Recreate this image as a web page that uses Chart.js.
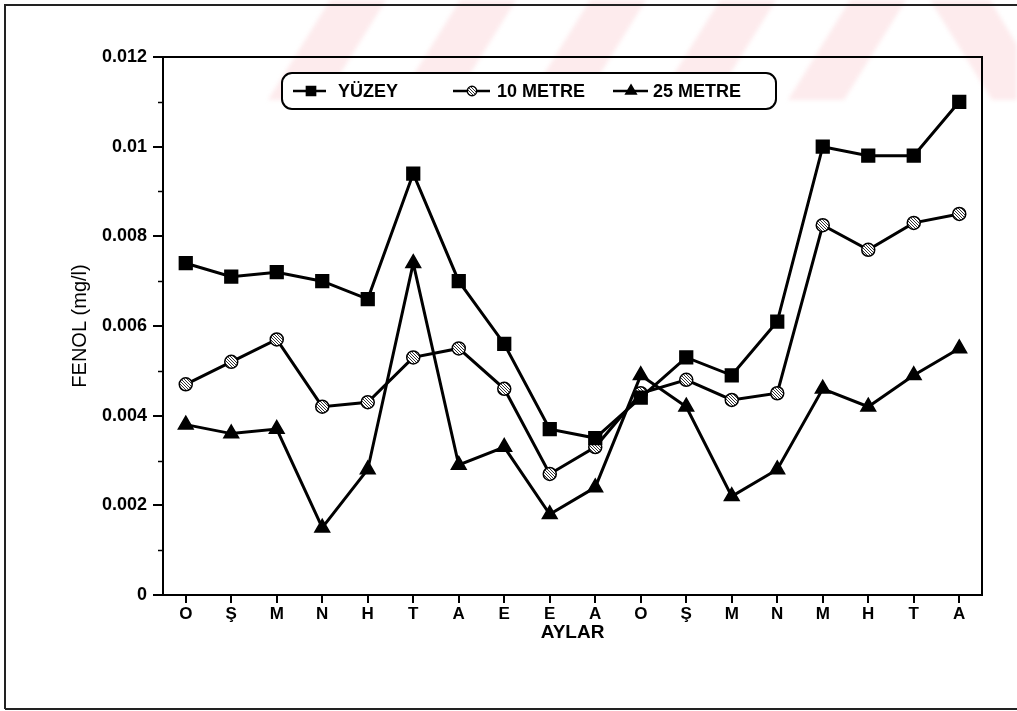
<!DOCTYPE html>
<html>
<head>
<meta charset="utf-8">
<script src="https://cdn.jsdelivr.net/npm/chart.js@4/dist/chart.umd.min.js"></script>
<style>
  html, body { margin: 0; padding: 0; background: #fff; }
  canvas { display: block; }
</style>
</head>
<body>
<canvas id="c" width="1017" height="711"></canvas>
<script>
// Months of sampling (Ekim .. Ağustos, two years)
const months = ['O', 'Ş', 'M', 'N', 'H', 'T', 'A', 'E', 'E', 'A', 'O', 'Ş', 'M', 'N', 'M', 'H', 'T', 'A'];

// Phenol concentration (mg/l) by depth
const yuzey   = [0.0074, 0.0071, 0.0072, 0.0070, 0.0066, 0.0094, 0.0070, 0.0056, 0.0037, 0.0035, 0.0044, 0.0053, 0.0049, 0.0061, 0.0100, 0.0098, 0.0098, 0.0110];
const metre10 = [0.0047, 0.0052, 0.0057, 0.0042, 0.0043, 0.0053, 0.0055, 0.0046, 0.0027, 0.0033, 0.0045, 0.0048, 0.00435, 0.0045, 0.00825, 0.0077, 0.0083, 0.0085];
const metre25 = [0.0038, 0.0036, 0.0037, 0.0015, 0.0028, 0.0074, 0.0029, 0.0033, 0.0018, 0.0024, 0.0049, 0.0042, 0.0022, 0.0028, 0.0046, 0.0042, 0.0049, 0.0055];

const seriesLabels = ['YÜZEY', '10 METRE', '25 METRE'];
const yTickLabels = ['0', '0.002', '0.004', '0.006', '0.008', '0.01', '0.012'];

// hatched fill for the 10 m circles
function hatchPattern() {
  const p = document.createElement('canvas');
  p.width = 3; p.height = 3;
  const g = p.getContext('2d');
  g.fillStyle = '#fff'; g.fillRect(0, 0, 3, 3);
  g.fillStyle = '#333';
  g.fillRect(0, 0, 1, 1); g.fillRect(1, 1, 1, 1); g.fillRect(2, 2, 1, 1);
  return g.createPattern(p, 'repeat');
}
const hatch = hatchPattern();

const FONT = '"Liberation Sans", Arial, sans-serif';

// page background with the faint pink stripe mark at the top
const backdrop = {
  id: 'backdrop',
  beforeDraw(chart) {
    const ctx = chart.ctx;
    ctx.save();
    ctx.fillStyle = '#fff';
    ctx.fillRect(0, 0, chart.width, chart.height);
    ctx.filter = 'blur(2px)';
    ctx.fillStyle = 'rgba(250, 210, 216, 0.45)';
    const h = 100, shift = 62, w = 56;
    [330, 460, 590, 720, 850].forEach(x0 => {
      ctx.beginPath();
      ctx.moveTo(x0, 0); ctx.lineTo(x0 + w, 0);
      ctx.lineTo(x0 + w - shift, h); ctx.lineTo(x0 - shift, h);
      ctx.closePath(); ctx.fill();
    });
    ctx.beginPath();
    ctx.moveTo(930, 0); ctx.lineTo(990, 0);
    ctx.lineTo(1017, 45); ctx.lineTo(1017, 100); ctx.lineTo(992, 100);
    ctx.closePath(); ctx.fill();
    ctx.restore();
  }
};

// plot frame, minor y ticks, page border and the boxed legend
const decor = {
  id: 'decor',
  afterDraw(chart) {
    const ctx = chart.ctx;
    const a = chart.chartArea;
    const ys = chart.scales.y;
    ctx.save();
    ctx.strokeStyle = '#000';
    ctx.lineWidth = 2;
    ctx.strokeRect(a.left, a.top, a.right - a.left, a.bottom - a.top);

    // minor ticks every 0.001
    ctx.lineWidth = 1.5;
    for (let i = 1; i < 12; i += 2) {
      const py = Math.round(ys.getPixelForValue(i * 0.001)) + 0.5;
      ctx.beginPath(); ctx.moveTo(a.left - 5, py); ctx.lineTo(a.left, py); ctx.stroke();
    }

    // page border
    ctx.lineWidth = 2;
    ctx.strokeStyle = '#222';
    ctx.beginPath();
    ctx.moveTo(5, 709); ctx.lineTo(5, 5); ctx.lineTo(1017, 5);
    ctx.moveTo(5, 709); ctx.lineTo(1017, 709);
    ctx.stroke();

    // legend
    ctx.strokeStyle = '#000';
    ctx.lineWidth = 2;
    ctx.fillStyle = '#fff';
    ctx.beginPath();
    ctx.roundRect(282, 73, 494, 36, 10);
    ctx.fill();
    ctx.stroke();
    const cy = 91;
    const items = [
      { x1: 293, x2: 326, m: 311, t: 338 },
      { x1: 453, x2: 490, m: 472, t: 497 },
      { x1: 613, x2: 648, m: 631, t: 653 }
    ];
    chart.data.datasets.forEach((ds, i) => {
      const it = items[i];
      ctx.strokeStyle = '#000';
      ctx.lineWidth = 2.5;
      ctx.beginPath(); ctx.moveTo(it.x1, cy); ctx.lineTo(it.x2, cy); ctx.stroke();
      ctx.fillStyle = ds.pointBackgroundColor;
      ctx.lineWidth = 1.5;
      Chart.helpers.drawPoint(ctx, {
        pointStyle: ds.pointStyle, rotation: 0,
        radius: ds.pointRadius * 0.72, borderWidth: 1.5
      }, it.m, cy);
      ctx.fillStyle = '#000';
      ctx.font = 'bold 18px ' + FONT;
      ctx.textBaseline = 'middle';
      ctx.textAlign = 'left';
      ctx.fillText(ds.label, it.t, cy + 1);
    });
    ctx.restore();
  }
};

const mk = (label, data, style, r, bg) => ({
  label, data,
  borderColor: '#000',
  borderWidth: 3,
  pointStyle: style,
  pointRadius: r,
  pointHoverRadius: r,
  pointBorderWidth: 1.5,
  pointBorderColor: '#000',
  pointBackgroundColor: bg,
  tension: 0,
  fill: false
});

new Chart(document.getElementById('c'), {
  type: 'line',
  data: {
    labels: months,
    datasets: [
      mk(seriesLabels[0], yuzey, 'rect', 9, '#000'),
      mk(seriesLabels[1], metre10, 'circle', 6.5, hatch),
      mk(seriesLabels[2], metre25, 'triangle', 8.5, '#000')
    ]
  },
  options: {
    responsive: false,
    animation: false,
    events: [],
    layout: { padding: { top: 57, right: 35, left: 0, bottom: 0 } },
    plugins: { legend: { display: false }, tooltip: { enabled: false } },
    scales: {
      x: {
        type: 'category',
        offset: true,
        afterFit(s) { s.height = 116; },
        grid: { display: true, offset: false, drawOnChartArea: false, drawTicks: true, tickLength: 8, color: '#000', lineWidth: 2 },
        border: { display: true, color: '#000', width: 2 },
        ticks: { color: '#000', font: { family: FONT, size: 17, weight: 'bold' }, padding: 1, maxRotation: 0, autoSkip: false },
        title: { display: true, text: 'AYLAR', color: '#000', font: { family: FONT, size: 19, weight: 'bold' }, padding: { top: 0, bottom: 67 } }
      },
      y: {
        min: 0, max: 0.012,
        afterFit(s) { s.width = 163; },
        afterBuildTicks(s) { s.ticks = yTickLabels.map(t => ({ value: parseFloat(t) })); },
        grid: { display: true, drawOnChartArea: false, drawTicks: true, tickLength: 10, color: '#000', lineWidth: 2 },
        border: { display: true, color: '#000', width: 2 },
        ticks: {
          color: '#000', padding: 6,
          font: { family: FONT, size: 18, weight: 'bold' },
          callback: (v, i) => yTickLabels[i]
        },
        title: { display: true, text: 'FENOL (mg/l)', color: '#000', font: { family: FONT, size: 20 }, padding: { top: 68, bottom: 0 } }
      }
    }
  },
  plugins: [backdrop, decor]
});
</script>
</body>
</html>
